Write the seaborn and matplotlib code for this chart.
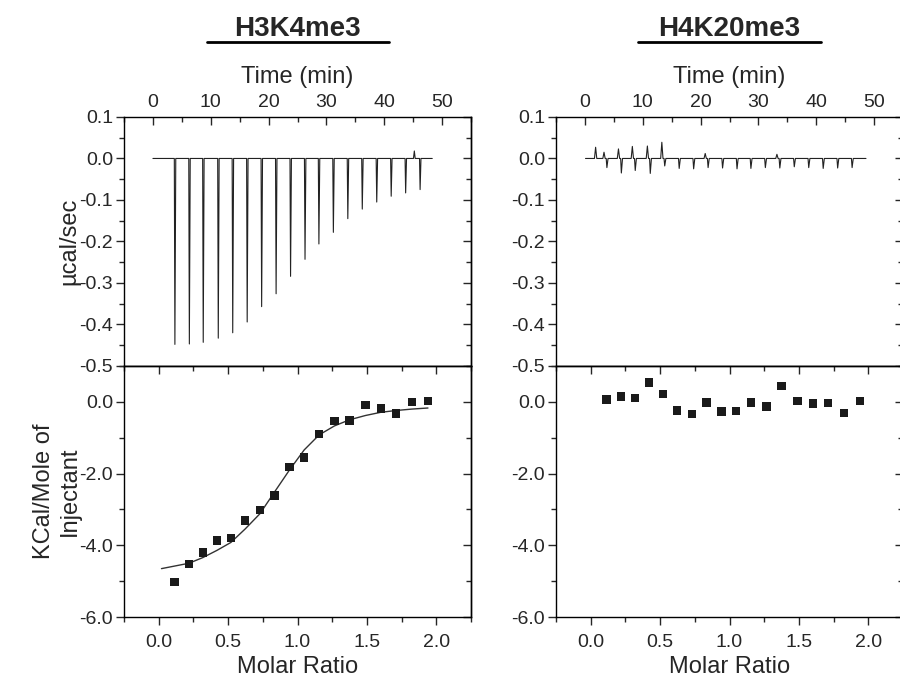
import pandas as pd
import seaborn as sns
import matplotlib.pyplot as plt
from matplotlib.lines import Line2D
from matplotlib.ticker import MultipleLocator, FormatStrFormatter

# panel titles
titles = ["H3K4me3", "H4K20me3"]

# injection times (min), shared by both runs
inj_time = [3.8, 6.3, 8.7, 11.3, 13.8, 16.3, 18.8, 21.3, 23.8,
            26.3, 28.7, 31.2, 33.7, 36.2, 38.7, 41.2, 43.7, 46.2]

# H3K4me3 raw heat peaks (ucal/sec)
h3_peak = [-0.448, -0.447, -0.443, -0.433, -0.420, -0.394, -0.357, -0.326, -0.284,
           -0.243, -0.206, -0.178, -0.145, -0.122, -0.105, -0.091, -0.083, -0.075]
h3_blip_time = [45.2]
h3_blip_val = [0.018]
h3_trace_end = 48.3

# H4K20me3 raw trace: small up/down deflections around each injection
h4_pre_time = [1.85]
h4_pre_val = [0.027]
h4_up = [0.015, 0.023, 0.029, 0.030, 0.039, 0.0, 0.0, 0.012, 0.0,
         0.0, 0.0, 0.0, 0.010, 0.0, 0.0, 0.0, 0.0, 0.0]
h4_down = [-0.022, -0.035, -0.029, -0.036, -0.018, -0.024, -0.025, -0.022, -0.023,
           -0.025, -0.024, -0.022, -0.023, -0.020, -0.022, -0.024, -0.023, -0.022]
h4_trace_end = 48.6

# integrated heats (kcal/mol of injectant)
molar_ratio = [0.115, 0.217, 0.319, 0.420, 0.520, 0.624, 0.729, 0.835, 0.942,
               1.048, 1.156, 1.266, 1.374, 1.489, 1.600, 1.710, 1.826, 1.940]
h3_heat = [-5.03, -4.52, -4.20, -3.87, -3.79, -3.31, -3.01, -2.61, -1.81,
           -1.55, -0.89, -0.54, -0.52, -0.08, -0.18, -0.32, -0.01, 0.02]
h4_heat = [0.07, 0.15, 0.10, 0.54, 0.22, -0.24, -0.34, -0.02, -0.27,
           -0.25, -0.02, -0.13, 0.44, 0.02, -0.04, -0.03, -0.31, 0.02]

# fitted binding curve for H3K4me3
fit_x = [0.02, 0.218, 0.319, 0.420, 0.520, 0.624, 0.729, 0.835, 0.942,
         1.048, 1.156, 1.266, 1.374, 1.489, 1.600, 1.710, 1.825, 1.940]
fit_y = [-4.65, -4.50, -4.34, -4.14, -3.92, -3.54, -3.12, -2.51, -1.90,
         -1.34, -0.92, -0.67, -0.50, -0.38, -0.29, -0.24, -0.20, -0.17]


def h3_trace():
    pts = [(0.0, 0.0), (h3_trace_end, 0.0)]
    for t, p in zip(inj_time, h3_peak):
        pts += [(t - 0.1, 0.0), (t, p), (t + 0.15, 0.0)]
    for t, v in zip(h3_blip_time, h3_blip_val):
        pts += [(t - 0.15, 0.0), (t, v), (t + 0.15, 0.0)]
    return pd.DataFrame(sorted(pts), columns=["time", "power"])


def h4_trace():
    pts = [(0.1, 0.0), (h4_trace_end, 0.0)]
    for t, v in zip(h4_pre_time, h4_pre_val):
        pts += [(t - 0.2, 0.0), (t, v), (t + 0.2, 0.0)]
    for t, u, d in zip(inj_time, h4_up, h4_down):
        if u:
            pts += [(t - 0.7, 0.0), (t - 0.5, u), (t - 0.3, 0.0)]
        pts += [(t - 0.12, 0.0), (t, d), (t + 0.2, 0.0)]
    return pd.DataFrame(sorted(pts), columns=["time", "power"])


sns.set_theme(style="ticks")
plt.rcParams["font.family"] = ["Liberation Sans", "DejaVu Sans"]
plt.rcParams["axes.unicode_minus"] = False
plt.rcParams["axes.linewidth"] = 1.0
plt.rcParams["axes.edgecolor"] = "black"

fig = plt.figure(figsize=(9, 6.8), dpi=100)

ink = "#1a1a1a"
tick_fs = 14
label_fs = 17

lefts = [124 / 900, 556 / 900]
width = 347 / 900
top_box = (0.4618, 0.3662)
bot_box = (0.0926, 0.3691)

traces = [h3_trace(), h4_trace()]
heats = [h3_heat, h4_heat]

for i, left in enumerate(lefts):
    ax_t = fig.add_axes([left, top_box[0], width, top_box[1]])
    ax_b = fig.add_axes([left, bot_box[0], width, bot_box[1]])

    # raw thermogram
    sns.lineplot(data=traces[i], x="time", y="power", sort=False, estimator=None,
                 color="#222222", lw=0.8, ax=ax_t)
    ax_t.set_xlim(-5, 55)
    ax_t.set_ylim(-0.5, 0.1)
    ax_t.xaxis.tick_top()
    ax_t.xaxis.set_label_position("top")
    ax_t.xaxis.set_major_locator(MultipleLocator(10))
    ax_t.xaxis.set_minor_locator(MultipleLocator(5))
    ax_t.yaxis.set_major_locator(MultipleLocator(0.1))
    ax_t.yaxis.set_minor_locator(MultipleLocator(0.05))
    ax_t.yaxis.set_major_formatter(FormatStrFormatter("%.1f"))
    ax_t.tick_params(axis="x", which="both", direction="in", top=True, bottom=False,
                     labeltop=True, labelbottom=False, labelsize=tick_fs, pad=4)
    ax_t.tick_params(axis="y", which="both", direction="out", left=True, right=False,
                     labelsize=tick_fs, pad=2)
    ax_t.tick_params(which="major", length=6, width=1)
    ax_t.tick_params(which="minor", length=3.5, width=1)
    ax_t.set_xlabel("Time (min)", fontsize=label_fs, labelpad=8)
    ax_t.set_ylabel("")
    sec = ax_t.secondary_yaxis("right")
    sec.yaxis.set_major_locator(MultipleLocator(0.1))
    sec.yaxis.set_minor_locator(MultipleLocator(0.05))
    sec.tick_params(axis="y", which="both", direction="in", labelright=False)
    sec.tick_params(which="major", length=6, width=1)
    sec.tick_params(which="minor", length=3.5, width=1)

    # integrated heats
    if i == 0:
        sns.lineplot(x=fit_x, y=fit_y, color="#333333", lw=1.0, ax=ax_b)
    sns.scatterplot(x=molar_ratio, y=heats[i], marker="s", s=36, color=ink,
                    edgecolor="none", ax=ax_b, zorder=3)
    ax_b.set_xlim(-0.25, 2.25)
    ax_b.set_ylim(-6, 1)
    ax_b.xaxis.set_major_locator(MultipleLocator(0.5))
    ax_b.xaxis.set_minor_locator(MultipleLocator(0.25))
    ax_b.xaxis.set_major_formatter(FormatStrFormatter("%.1f"))
    ax_b.yaxis.set_major_locator(MultipleLocator(2))
    ax_b.yaxis.set_minor_locator(MultipleLocator(1))
    ax_b.yaxis.set_major_formatter(FormatStrFormatter("%.1f"))
    ax_b.tick_params(axis="x", which="both", direction="out", bottom=True, top=False,
                     labelsize=tick_fs, pad=6)
    ax_b.tick_params(axis="y", which="both", direction="out", left=True, right=False,
                     labelsize=tick_fs, pad=2)
    ax_b.tick_params(which="major", length=6, width=1)
    ax_b.tick_params(which="minor", length=3.5, width=1)
    ax_b.set_xlabel("Molar Ratio", fontsize=label_fs, labelpad=4)
    ax_b.set_ylabel("")
    secx = ax_b.secondary_xaxis("top")
    secx.xaxis.set_major_locator(MultipleLocator(0.5))
    secx.xaxis.set_minor_locator(MultipleLocator(0.25))
    secx.tick_params(axis="x", which="both", direction="in", labeltop=False)
    secx.tick_params(which="major", length=6, width=1)
    secx.tick_params(which="minor", length=3.5, width=1)
    secy = ax_b.secondary_yaxis("right")
    secy.yaxis.set_major_locator(MultipleLocator(2))
    secy.yaxis.set_minor_locator(MultipleLocator(1))
    secy.tick_params(axis="y", which="both", direction="in", labelright=False)
    secy.tick_params(which="major", length=6, width=1)
    secy.tick_params(which="minor", length=3.5, width=1)

    if i == 0:
        ax_t.set_ylabel("\u00b5cal/sec", fontsize=label_fs)
        ax_t.yaxis.set_label_coords(-0.125, 0.5)
        ax_b.set_ylabel("KCal/Mole of\nInjectant", fontsize=label_fs)
        ax_b.yaxis.set_label_coords(-0.125, 0.5)

    # underlined panel title
    cx = left + width / 2
    fig.text(cx, 0.947, titles[i], ha="center", va="baseline",
             fontsize=20, fontweight="bold")
    half = (182 if i == 0 else 183) / 900 / 2
    fig.add_artist(Line2D([cx - half, cx + half], [0.9387, 0.9387],
                          transform=fig.transFigure, color="black", lw=2))

plt.savefig("out.png", dpi=100)
print("Saved out.png")
